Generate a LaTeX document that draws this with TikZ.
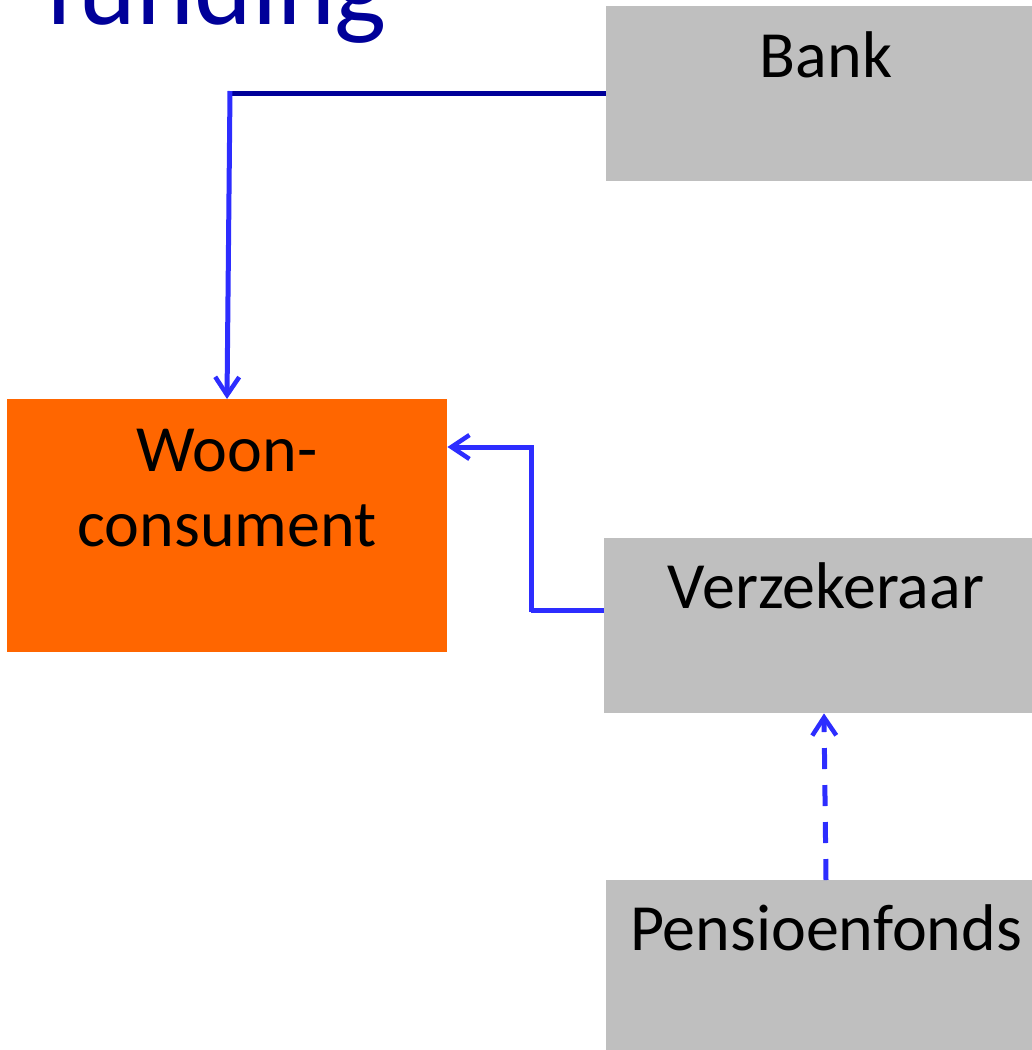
\documentclass[tikz,border=0pt]{standalone}
\usepackage{fontspec}
\setmainfont{Carlito}
\usetikzlibrary{arrows.meta}
\definecolor{boxgray}{HTML}{BFBFBF}
\definecolor{woonorange}{HTML}{FF6600}
\definecolor{darkblue}{HTML}{000099}
\definecolor{brightblue}{RGB}{45,45,255}
\begin{document}
\begin{tikzpicture}[x=1pt,y=-1pt,
  graybox/.style={fill=boxgray,draw=none,inner sep=0pt,anchor=north west},
  lbl/.style={anchor=base,inner sep=0pt,font=\fontsize{66}{72}\selectfont,text=black},
  conn/.style={brightblue,line width=5pt},
  tip/.style={-{Straight Barb[length=18pt,width=24pt,line width=4.5pt]}}]
\useasboundingbox (0,0) rectangle (1032,1050);
\clip (0,0) rectangle (1032,1050);
% title
\node[anchor=base west,inner sep=0pt,text=darkblue,font=\fontsize{110}{120}\selectfont] (title) at (45,24) {funding};
% boxes
\node[graybox,minimum width=440pt,minimum height=175pt] (bank) at (606,6) {};
\node[graybox,minimum width=440pt,minimum height=175pt] (verz) at (604,538) {};
\node[graybox,minimum width=440pt,minimum height=180pt] (pens) at (606,880) {};
\node[fill=woonorange,draw=none,inner sep=0pt,anchor=north west,minimum width=440pt,minimum height=253pt] (woon) at (7,399) {};
% labels
\node[lbl] (tbank) at (826,77) {Bank};
\node[lbl] (twoon1) at (227,471) {Woon-};
\node[lbl] (twoon2) at (227,546) {consument};
\node[lbl] (tverz) at (826,608) {Verzekeraar};
\node[lbl] (tpens) at (826,950) {Pensioenfonds};
% connectors
\coordinate (c1) at (230,93);
\coordinate (c2) at (531,610);
\coordinate (c3) at (531,447);
\draw[darkblue,line width=5pt] (bank.west |- c1) -- (c1);
\draw[conn,tip] ([yshift=2pt]c1) -- (woon.north -| 227,0);
\draw[conn] (verz.west |- c2) -- (c2);
\draw[conn,tip] ([yshift=-2pt]c2) -- (c3) -- (woon.east |- c3);
\draw[conn,tip,dash pattern=on 21pt off 16pt] (pens.north -| 826,0) -- (verz.south -| 824,0);
\end{tikzpicture}
\end{document}
